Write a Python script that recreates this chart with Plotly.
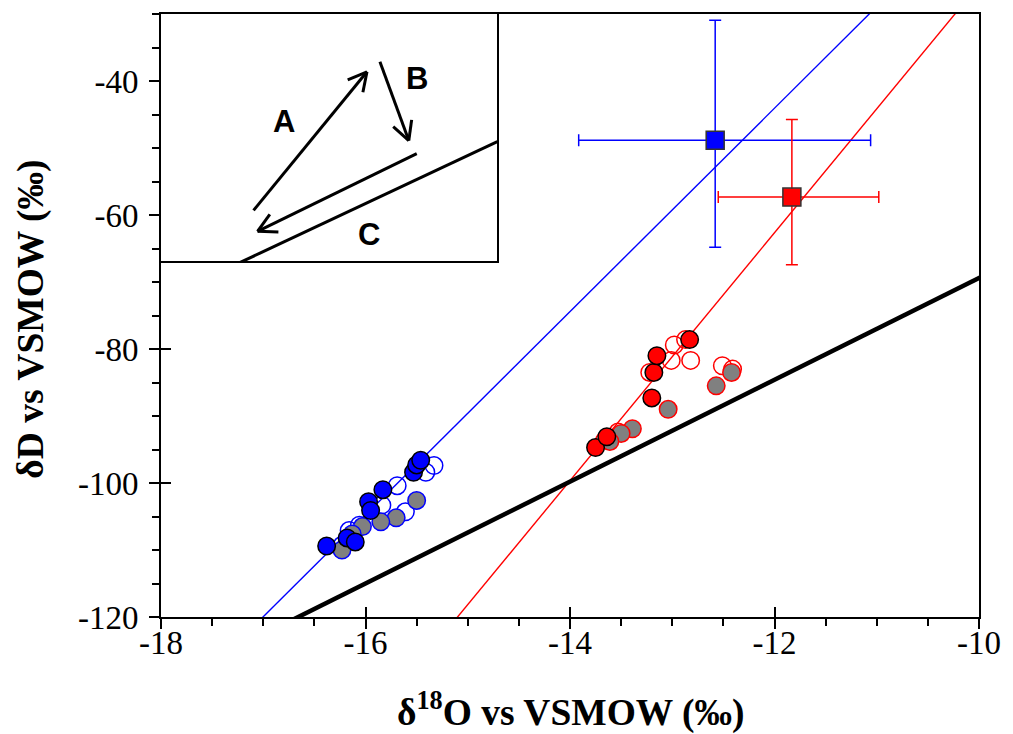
import math
import plotly.graph_objects as go

# ---- regression / reference lines: (slope, intercept) for dD = a * d18O + b
blue_fit = (15.18, 138.1)
red_fit = (18.5, 159.35)
mwl_fit = (7.6, 6.6)

# ---- blue group
blue_filled_x = [-16.38, -16.18, -16.10, -15.97, -15.95, -15.83, -15.53, -15.50, -15.46]
blue_filled_y = [-109.4, -108.2, -108.8, -102.8, -104.1, -101.0, -98.4, -97.3, -96.6]
blue_open_x = [-15.33, -15.41, -15.69, -15.84, -15.61, -16.06, -16.16, -16.23]
blue_open_y = [-97.4, -98.4, -100.4, -103.3, -104.3, -106.3, -107.1, -109.3]
blue_gray_x = [-15.50, -15.70, -15.85, -16.03, -16.13, -16.23]
blue_gray_y = [-102.6, -105.2, -105.8, -106.5, -107.6, -110.0]

# ---- red group
red_filled_x = [-13.75, -13.64, -13.20, -13.18, -13.15, -12.83]
red_filled_y = [-94.7, -93.1, -87.3, -83.5, -81.0, -78.6]
red_open_x = [-12.98, -12.87, -12.82, -13.01, -13.22, -12.51, -12.41, -13.53, -13.66]
red_open_y = [-79.4, -78.6, -81.7, -81.7, -83.5, -82.5, -83.0, -92.4, -93.6]
red_gray_x = [-13.04, -12.57, -12.42, -13.39, -13.50, -13.61]
red_gray_y = [-89.0, -85.5, -83.5, -91.9, -92.6, -93.8]

# ---- group means with uncertainty
mean_blue = dict(x=-12.58, y=-48.85, xm=1.335, xp=1.52, ym=15.97, yp=17.9)
mean_red = dict(x=-11.83, y=-57.33, xm=0.72, xp=0.85, ym=10.1, yp=11.6)

# ---- axis settings
x_range = [-18, -10]
y_range = [-120, -30]
x_ticks = [-18, -16, -14, -12, -10]
y_ticks = [-120, -100, -80, -60, -40]

# ---- schematic inset (local pixel frame: x right, y down, 338 x 248)
inset_w, inset_h = 338, 248
arrow_A = [(93, 197), (207, 58)]
arrow_B = [(220, 48), (249, 127)]
arrow_back = [(257, 140), (97, 218)]
line_C = [(78, 250), (338, 128)]
inset_labels = ["A", "B", "C"]
inset_label_pos = [(124, 108), (257, 65), (209, 221)]

fig = go.Figure()


def fit_line(fit, color, width):
    a, b = fit
    xs = [x_range[0] - 1, x_range[1] + 1]
    ys = [a * x + b for x in xs]
    fig.add_trace(go.Scatter(x=xs, y=ys, mode="lines",
                             line=dict(color=color, width=width),
                             hoverinfo="skip", showlegend=False))


fit_line(blue_fit, "#0000ff", 1.4)
fit_line(red_fit, "#ff0000", 1.4)
fit_line(mwl_fit, "#000000", 4.5)

SZ = 17.5


def pts(xs, ys, fill, edge, lw=1.5):
    fig.add_trace(go.Scatter(x=xs, y=ys, mode="markers",
                             marker=dict(size=SZ, color=fill,
                                         line=dict(color=edge, width=lw)),
                             showlegend=False))


pts(blue_open_x, blue_open_y, "rgba(0,0,0,0)", "#0000ff")
pts(red_open_x, red_open_y, "rgba(0,0,0,0)", "#ff0000")
pts(blue_gray_x, blue_gray_y, "#808080", "#0000ff")
pts(red_gray_x, red_gray_y, "#808080", "#ff0000")
pts(blue_filled_x, blue_filled_y, "#0000ff", "#000000")
pts(red_filled_x, red_filled_y, "#ff0000", "#000000")

for m, c in [(mean_blue, "#0000ff"), (mean_red, "#ff0000")]:
    fig.add_trace(go.Scatter(
        x=[m["x"]], y=[m["y"]], mode="markers",
        marker=dict(symbol="square", size=18, color=c,
                    line=dict(color="#333333", width=1.5)),
        error_x=dict(type="data", symmetric=False, array=[m["xp"]],
                     arrayminus=[m["xm"]], color=c, thickness=1.5, width=6),
        error_y=dict(type="data", symmetric=False, array=[m["yp"]],
                     arrayminus=[m["ym"]], color=c, thickness=1.5, width=6),
        showlegend=False))


# ---- inset drawing on its own pixel-scaled axes
def seg(p, q, width=3):
    fig.add_trace(go.Scatter(x=[p[0], q[0]], y=[p[1], q[1]], mode="lines",
                             line=dict(color="black", width=width),
                             xaxis="x2", yaxis="y2", hoverinfo="skip",
                             showlegend=False))


def arrow(p, q, head=21, ang=28):
    seg(p, q)
    dx, dy = p[0] - q[0], p[1] - q[1]
    L = math.hypot(dx, dy)
    ux, uy = dx / L, dy / L
    for s in (1, -1):
        t = math.radians(ang * s)
        rx = ux * math.cos(t) - uy * math.sin(t)
        ry = ux * math.sin(t) + uy * math.cos(t)
        fig.add_trace(go.Scatter(
            x=[q[0] + rx * head, q[0], ], y=[q[1] + ry * head, q[1]],
            mode="lines", line=dict(color="black", width=3),
            xaxis="x2", yaxis="y2", hoverinfo="skip", showlegend=False))


arrow(*arrow_A)
arrow(*arrow_B)
arrow(*arrow_back)
seg(*line_C)

for t, (lx, ly) in zip(inset_labels, inset_label_pos):
    fig.add_annotation(x=lx, y=ly, xref="x2", yref="y2", text=t,
                       showarrow=False,
                       font=dict(family="Liberation Sans, Arial", size=31,
                                 color="black", weight="bold"))

# ---- layout
W, H = 1013, 734
ml, mr, mt, mb = 161, 30, 12, 117
pw, ph = W - ml - mr, H - mt - mb

tick_font = dict(family="Liberation Serif, Times New Roman", size=33, color="black")
title_font = dict(family="Liberation Serif, Times New Roman", size=37.5, color="black",
                  weight="bold")

fig.update_layout(
    width=W, height=H,
    margin=dict(l=ml, r=mr, t=mt, b=mb),
    paper_bgcolor="white", plot_bgcolor="white",
    xaxis=dict(range=x_range, tickvals=x_ticks, ticktext=[str(v) for v in x_ticks],
               ticks="outside", ticklen=10, tickwidth=1.5, tickcolor="black",
               minor=dict(dtick=0.5, ticks="outside", ticklen=7, tickwidth=1.5,
                          tickcolor="black", showgrid=False),
               showline=True, linewidth=2, linecolor="black", mirror=True,
               showgrid=False, zeroline=False, tickfont=tick_font, ticklabelstandoff=-15),
    yaxis=dict(range=y_range, tickvals=y_ticks, ticktext=[str(v) for v in y_ticks],
               ticks="outside", ticklen=10, tickwidth=1.5, tickcolor="black",
               minor=dict(dtick=5, ticks="outside", ticklen=7, tickwidth=1.5,
                          tickcolor="black", showgrid=False),
               showline=True, linewidth=2, linecolor="black", mirror=True,
               showgrid=False, zeroline=False, tickfont=tick_font, ticklabelstandoff=4),
    # inner halves of the major ticks
    xaxis3=dict(overlaying="x", matches="x", anchor="y", side="bottom",
                tickvals=x_ticks, ticks="inside", ticklen=10, tickwidth=1.5,
                tickcolor="black", showticklabels=False, showline=False,
                showgrid=False, zeroline=False),
    yaxis3=dict(overlaying="y", matches="y", anchor="x", side="left",
                tickvals=y_ticks, ticks="inside", ticklen=10, tickwidth=1.5,
                tickcolor="black", showticklabels=False, showline=False,
                showgrid=False, zeroline=False),
    xaxis2=dict(domain=[0, inset_w / pw], range=[0, inset_w], anchor="y2",
                showline=True, linewidth=2, linecolor="black", mirror=True,
                showticklabels=False, ticks="", showgrid=False, zeroline=False),
    yaxis2=dict(domain=[1 - inset_h / ph, 1], range=[inset_h, 0], anchor="x2",
                showline=True, linewidth=2, linecolor="black", mirror=True,
                showticklabels=False, ticks="", showgrid=False, zeroline=False),
)

# dummy trace so the overlay tick axes are drawn
fig.add_trace(go.Scatter(x=[None], y=[None], xaxis="x3", yaxis="y3",
                         showlegend=False, hoverinfo="skip"))


def px_to_paper(px, py):
    return (px - ml) / pw, (H - mb - py) / ph


tx, ty = px_to_paper(ml + pw / 2, 710)
fig.add_annotation(x=tx, y=ty, xref="paper", yref="paper",
                   text="δ<sup>18</sup>O vs VSMOW (‰)", showarrow=False,
                   font=title_font, xanchor="center", yanchor="middle")
tx, ty = px_to_paper(30, 318)
fig.add_annotation(x=tx, y=ty, xref="paper", yref="paper",
                   text="δD vs VSMOW (‰)", showarrow=False, textangle=-90,
                   font=title_font, xanchor="center", yanchor="middle")

fig.write_html("out.html")
